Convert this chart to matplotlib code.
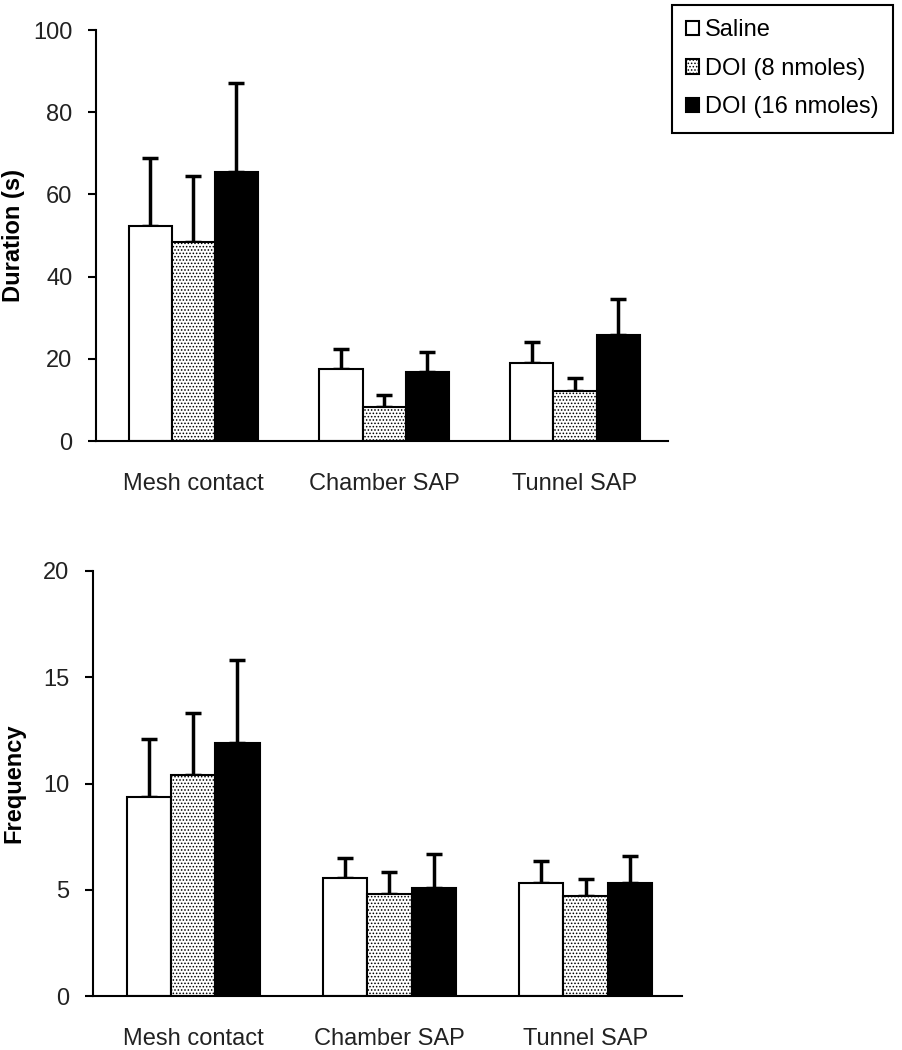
import numpy as np
import matplotlib.pyplot as plt

# =============================
# DATA
# =============================
categories = ["Mesh contact", "Chamber SAP", "Tunnel SAP"]
groups = ["Saline", "DOI (8 nmoles)", "DOI (16 nmoles)"]

# duration (s): mean and SEM
dur_saline = [52.3, 17.5, 19.0]
dur_saline_err = [16.6, 4.9, 5.1]
dur_doi8 = [48.4, 8.3, 12.2]
dur_doi8_err = [16.1, 2.9, 3.1]
dur_doi16 = [65.5, 16.8, 25.8]
dur_doi16_err = [21.6, 4.9, 8.7]

# frequency: mean and SEM
freq_saline = [9.35, 5.55, 5.3]
freq_saline_err = [2.75, 0.95, 1.05]
freq_doi8 = [10.4, 4.8, 4.7]
freq_doi8_err = [2.9, 1.05, 0.8]
freq_doi16 = [11.9, 5.1, 5.3]
freq_doi16_err = [3.9, 1.6, 1.3]

dur_ticks = [0, 20, 40, 60, 80, 100]
freq_ticks = [0, 5, 10, 15, 20]

# =============================
# STYLE
# =============================
plt.rcParams['font.family'] = ['Liberation Sans', 'DejaVu Sans']
plt.rcParams['hatch.color'] = '#666666'
plt.rcParams['hatch.linewidth'] = 0.7
FS = 17
BAR_W = 0.226
STYLES = [
    dict(facecolor='white', hatch=None),
    dict(facecolor='white', hatch='.....'),
    dict(facecolor='black', hatch=None),
]


def draw_panel(ax, means, errs, ticks, ylabel):
    x = np.arange(len(categories))
    handles = []
    for i, (m, e) in enumerate(zip(means, errs)):
        pos = x + (i - 1) * BAR_W
        st = STYLES[i]
        b = ax.bar(pos, m, BAR_W, facecolor=st['facecolor'],
                   edgecolor='black', hatch=st['hatch'],
                   linewidth=1.5, zorder=2, label=groups[i])
        if st['hatch']:
            # keep the border black while hatch stays gray
            for p in b:
                p.set_edgecolor('black')
        handles.append(b)
        ax.errorbar(pos, m, yerr=[np.zeros(len(m)), e], fmt='none',
                    ecolor='black', elinewidth=2.5, capsize=6,
                    capthick=2.5, zorder=1)
    ax.set_xlim(-0.51, 2.49)
    ax.set_ylim(ticks[0], ticks[-1])
    ax.set_yticks(ticks)
    ax.set_xticks(x)
    ax.set_xticklabels(categories, fontsize=FS, color='#222222')
    ax.tick_params(axis='x', length=0, pad=23)
    ax.tick_params(axis='y', length=6, width=1.5, pad=11,
                   labelsize=FS, labelcolor='#222222')
    ax.spines['top'].set_visible(False)
    ax.spines['right'].set_visible(False)
    ax.spines['left'].set_linewidth(1.5)
    ax.spines['bottom'].set_linewidth(1.5)
    ax.set_ylabel(ylabel, fontsize=FS, fontweight='bold')
    return handles


fig = plt.figure(figsize=(9.03, 10.5), dpi=100)
ax1 = fig.add_axes([0.1063, 0.58, 0.634, 0.3914])
ax2 = fig.add_axes([0.103, 0.0514, 0.652, 0.4048])

h = draw_panel(ax1, [dur_saline, dur_doi8, dur_doi16],
               [dur_saline_err, dur_doi8_err, dur_doi16_err],
               dur_ticks, "Duration (s)")
draw_panel(ax2, [freq_saline, freq_doi8, freq_doi16],
           [freq_saline_err, freq_doi8_err, freq_doi16_err],
           freq_ticks, "Frequency")
ax1.yaxis.set_label_coords(-0.124, 0.5)
ax2.yaxis.set_label_coords(-0.115, 0.5)

leg = fig.legend(h, groups, loc='upper right',
                 bbox_to_anchor=(0.989, 0.995), borderaxespad=0,
                 fontsize=FS, handlelength=0.55, handleheight=0.55,
                 handletextpad=0.25, labelspacing=0.7, borderpad=0.6,
                 fancybox=False, edgecolor='black', framealpha=1)
leg.get_frame().set_linewidth(1.5)

fig.savefig("out.png", dpi=100)
